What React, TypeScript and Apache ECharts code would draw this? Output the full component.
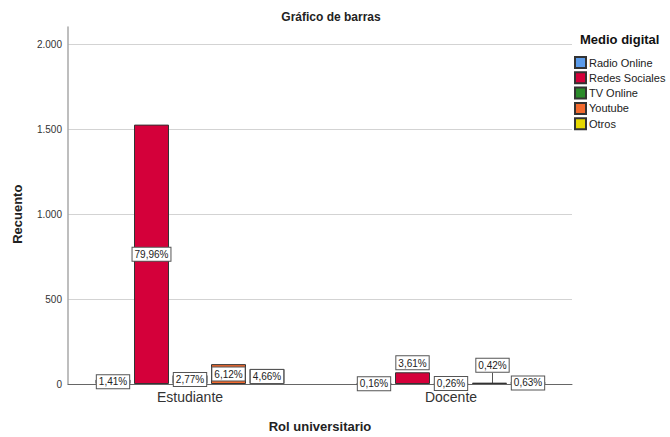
import React, { useEffect, useRef } from 'react';
import * as echarts from 'echarts';

const categories = ['Estudiante', 'Docente'];
const seriesNames = ['Radio Online', 'Redes Sociales', 'TV Online', 'Youtube', 'Otros'];
const radioOnline = [27, 3];
const redesSociales = [1528, 69];
const tvOnline = [53, 5];
const youtube = [117, 8];
const otros = [89, 12];
const yTicks = [0, 500, 1000, 1500, 2000];
const colors = ['#5b9bea', '#d4003a', '#2a8a2a', '#f26a2e', '#e6d800'];

const FONT = '"Liberation Sans", Arial, Helvetica, sans-serif';

function fmtThousands(v: number): string {
  if (v >= 1000) return `${Math.floor(v / 1000)}.${String(v % 1000).padStart(3, '0')}`;
  return String(v);
}

export default function App() {
  const ref = useRef<HTMLDivElement>(null);
  useEffect(() => {
    if (!ref.current) return;
    const chart = echarts.init(ref.current, undefined, { renderer: 'svg' });
    const valuesList = [radioOnline, redesSociales, tvOnline, youtube, otros];
    const total = valuesList.reduce((s, arr) => s + arr.reduce((a, b) => a + b, 0), 0);
    const pct = (v: number) => `${((v / total) * 100).toFixed(2).replace('.', ',')}%`;
    const yMin = yTicks[0];
    const yMax = yTicks[yTicks.length - 1];
    const yInterval = yTicks[1] - yTicks[0];

    const series = seriesNames.map((name, i) => ({
      type: 'bar',
      name,
      xAxisIndex: 1,
      yAxisIndex: 1,
      barWidth: 35,
      barGap: '10%',
      itemStyle: { color: colors[i], borderColor: '#333333', borderWidth: 1 },
      data: valuesList[i].map((v, j) => {
        const item: any = { value: v };
        if (name === 'Redes Sociales' && j === 1) {
          item.label = { position: 'top', distance: 3 };
        }
        return item;
      }),
      label: {
        show: true,
        position: 'inside',
        formatter: (p: any) => pct(p.value),
        backgroundColor: '#ffffff',
        borderColor: '#555555',
        borderWidth: 1,
        padding: [2, 2, 1, 2],
        fontSize: 10,
        color: '#222222',
        fontFamily: FONT,
      },
      labelLayout:
        name === 'Youtube'
          ? (p: any) => (p.dataIndex === 1 ? { dx: 3, dy: -18 } : {})
          : undefined,
      labelLine:
        name === 'Youtube'
          ? { show: true, lineStyle: { color: '#555555', width: 1 } }
          : undefined,
    }));

    const gridBase = { outerBoundsMode: 'none', containLabel: false };

    chart.setOption({
      animation: false,
      backgroundColor: '#ffffff',
      textStyle: { fontFamily: FONT },
      title: [
        {
          text: 'Gráfico de barras',
          left: 326,
          top: 6,
          textAlign: 'center',
          textStyle: { fontSize: 12, fontWeight: 'bold', color: '#222', fontFamily: FONT },
        },
        {
          text: 'Medio digital',
          left: 575,
          top: 28,
          textStyle: { fontSize: 13, fontWeight: 'bold', color: '#111', fontFamily: FONT },
        },
      ],
      legend: {
        orient: 'vertical',
        left: 574,
        top: 56,
        padding: 0,
        itemWidth: 11,
        itemHeight: 11,
        itemGap: 2.3,
        icon: 'rect',
        data: seriesNames,
        textStyle: { fontSize: 11, color: '#222', fontFamily: FONT, padding: [0, 0, 0, -2] },
      },
      grid: [
        { ...gridBase, left: 68, right: 98, top: 44.5, bottom: 53 },
        { ...gridBase, left: 59.5, width: 522, top: 44.5, bottom: 53 },
        { ...gridBase, left: 68, width: 1, top: 27, bottom: 53 },
      ],
      xAxis: [
        {
          type: 'category',
          gridIndex: 0,
          data: categories,
          axisLine: { show: true, lineStyle: { color: '#666666', width: 1 } },
          axisTick: { show: false },
          axisLabel: { show: false },
          name: 'Rol universitario',
          nameLocation: 'middle',
          nameGap: 36,
          nameTextStyle: { fontSize: 13, fontWeight: 'bold', color: '#222', fontFamily: FONT },
        },
        {
          type: 'category',
          gridIndex: 1,
          data: categories,
          axisLine: { show: false },
          axisTick: { show: false },
          axisLabel: { show: true, fontSize: 14, color: '#333', margin: 6, fontFamily: FONT },
        },
        {
          type: 'category',
          gridIndex: 2,
          data: categories,
          show: false,
        },
      ],
      yAxis: [
        {
          type: 'value',
          gridIndex: 0,
          min: yMin,
          max: yMax,
          interval: yInterval,
          axisLine: { show: false },
          axisTick: { show: false },
          axisLabel: {
            fontSize: 10,
            color: '#333',
            margin: 6,
            fontFamily: FONT,
            formatter: (v: number) => fmtThousands(v),
          },
          splitLine: { show: true, lineStyle: { color: '#d3d3d3', width: 1 } },
          name: 'Recuento',
          nameLocation: 'middle',
          nameGap: 44,
          nameTextStyle: { fontSize: 13, fontWeight: 'bold', color: '#222', fontFamily: FONT },
        },
        {
          type: 'value',
          gridIndex: 1,
          min: yMin,
          max: yMax,
          interval: yInterval,
          show: false,
        },
        {
          type: 'value',
          gridIndex: 2,
          min: 0,
          max: 1,
          axisLine: { show: true, lineStyle: { color: '#a8a8a8', width: 1.5 } },
          axisTick: { show: false },
          axisLabel: { show: false },
          splitLine: { show: false },
        },
      ],
      series,
    });
    return () => chart.dispose();
  }, []);
  return (
    <div
      ref={ref}
      style={{ position: 'absolute', left: 0, top: 0, width: 670, height: 437 }}
    />
  );
}
